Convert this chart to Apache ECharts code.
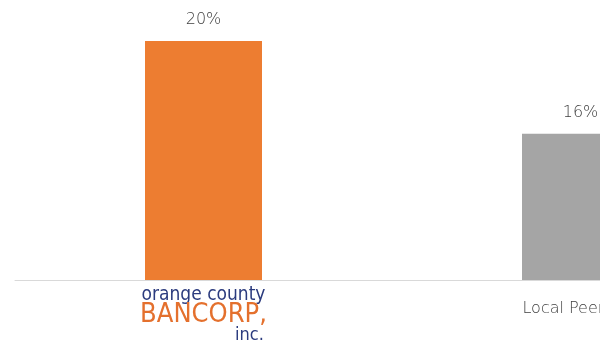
<!DOCTYPE html>
<html><head><meta charset="utf-8">
<script src="https://cdn.jsdelivr.net/npm/echarts@6/dist/echarts.min.js"></script>
<style>html,body{margin:0;padding:0;overflow:hidden;background:#fff;width:600px;height:345px}#c{width:800px;height:345px}</style>
</head><body><div id="c"></div>
<script>
const categories = ['Orange County Bancorp', 'Local Peer Avg'];
const values = [20, 16];
const valueLabels = ['20%', '16%'];
const colors = ['#ED7D31', '#A5A5A5'];

const chart = echarts.init(document.getElementById('c'), null, {renderer: 'canvas'});
chart.setOption({
  animation: false,
  grid: {left: 15, width: 754, top: 41, bottom: 65, containLabel: false},
  xAxis: {
    type: 'category', data: categories,
    axisLine: {lineStyle: {color: '#D9D9D9', width: 1}},
    axisTick: {show: false},
    axisLabel: {
      margin: 6,
      formatter: function (v, i) {
        if (i === 0) return '{a|orange county}\n{b|BANCORP,}\n{c|inc.}';
        return '{d|' + v + '}';
      },
      rich: {
        a: {color: '#2B3B7E', fontSize: 19, fontFamily: 'DejaVu Sans Condensed', lineHeight: 18, align: 'center'},
        b: {color: '#E4702D', fontSize: 27, fontFamily: 'DejaVu Sans Condensed', lineHeight: 22, align: 'center'},
        c: {color: '#2B3B7E', fontSize: 18, fontFamily: 'DejaVu Sans Condensed', lineHeight: 18, align: 'right', padding: [0, 3, 0, 0]},
        d: {color: '#404040', fontSize: 16, fontFamily: 'DejaVu Sans', fontWeight: 300, padding: [15, 0, 0, 0]}
      }
    }
  },
  yAxis: {type: 'value', min: 9.7, max: 20, show: false, splitLine: {show: false}},
  series: [{
    type: 'bar', barWidth: 117,
    data: values.map((v, i) => ({value: v, itemStyle: {color: colors[i]}})),
    label: {
      show: true, position: 'top', distance: 13,
      formatter: p => valueLabels[p.dataIndex],
      color: '#404040', fontSize: 16, fontFamily: 'DejaVu Sans', fontWeight: 300
    }
  }]
});
</script></body></html>
